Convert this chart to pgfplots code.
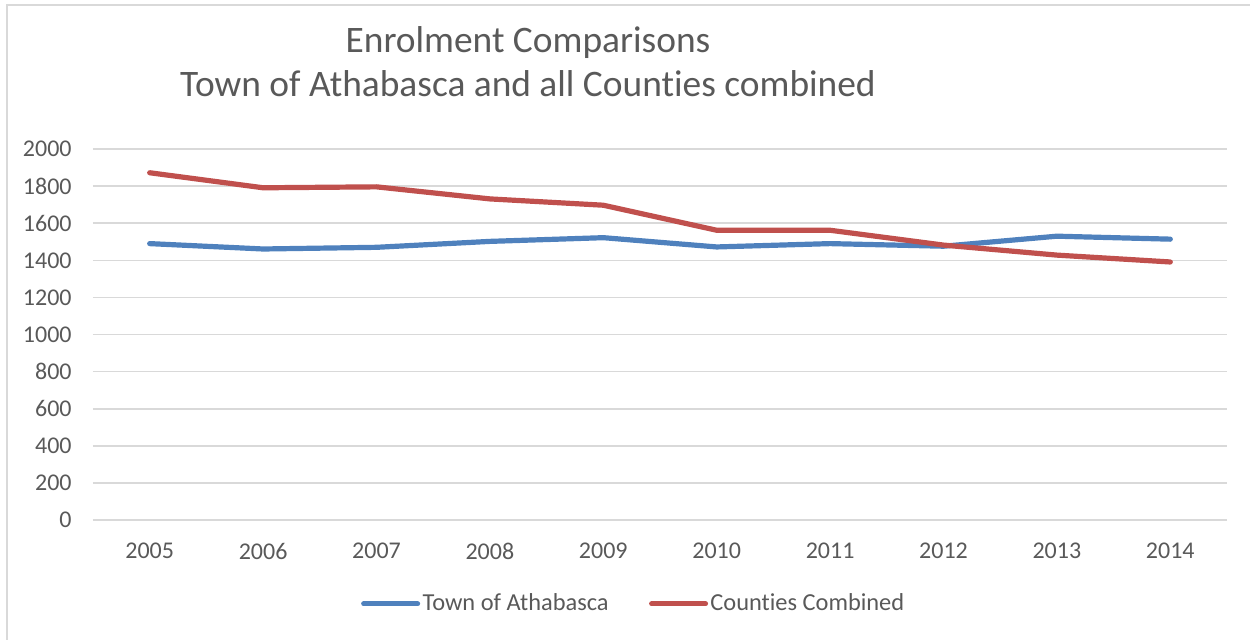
\documentclass[border=0pt]{standalone}
\usepackage{pgfplots}
\pgfplotsset{compat=1.18}
\usepackage{fontspec}
\setmainfont{Carlito}[Ligatures=NoCommon]
\definecolor{blueS}{HTML}{4F81BD}
\definecolor{redS}{HTML}{C0504D}
\definecolor{gridC}{HTML}{D9D9D9}
\definecolor{txtC}{HTML}{595959}
\begin{document}
\begin{tikzpicture}
\path[use as bounding box] (-46.5pt,-59.5pt) rectangle (578.5pt,260pt);
\draw[color=gridC, line width=1pt] (-43pt,-60pt) -- (-43pt,257.4pt) -- (580pt,257.4pt);
\begin{axis}[
  at={(0pt,0pt)}, anchor=south west,
  scale only axis, width=567pt, height=185.5pt,
  xmin=-0.5, xmax=9.5, ymin=0, ymax=2000,
  xtick={0,...,9},
  xticklabels={2005,2006,2007,2008,2009,2010,2011,2012,2013,2014},
  ytick={0,200,...,2000},
  ymajorgrids, grid style={color=gridC, line width=0.8pt},
  axis line style={draw=none},
  major tick length=0pt,
  /pgf/number format/assume math mode=true,
  /pgf/number format/1000 sep={},
  tick label style={font=\fontsize{12}{14}\selectfont, color=txtC},
  yticklabel style={anchor=east, inner sep=0pt, xshift=-10.5pt},
  xticklabel style={anchor=north, inner sep=0pt, yshift=-11.5pt},
  title={Enrolment Comparisons\\Town of Athabasca and all Counties combined},
  title style={at={(0.3836,1.202)}, anchor=center, align=center, color=txtC, font=\fontsize{18.7}{22}\selectfont},
  legend style={at={(0.477,-0.226)}, anchor=center, draw=none, fill=none,
    font=\fontsize{12.2}{14}\selectfont, text=txtC,
    /tikz/every even column/.append style={column sep=19pt},
    nodes={inner sep=1.2pt}},
  legend columns=2, legend cell align=left,
  legend image code/.code={\draw[#1, line width=2.5pt, line cap=round] (0pt,0pt) -- (27pt,0pt);},
]
\addplot[color=blueS, line width=2.6pt, line join=round, line cap=round] coordinates {
 (0,1490) (1,1461) (2,1470) (3,1502) (4,1522) (5,1472) (6,1490) (7,1476) (8,1530) (9,1514)};
\addlegendentry{Town of Athabasca}
\addplot[color=redS, line width=2.6pt, line join=round, line cap=round] coordinates {
 (0,1872) (1,1791) (2,1796) (3,1731) (4,1697) (5,1562) (6,1562) (7,1482) (8,1428) (9,1391)};
\addlegendentry{Counties Combined}
\end{axis}
\end{tikzpicture}
\end{document}
